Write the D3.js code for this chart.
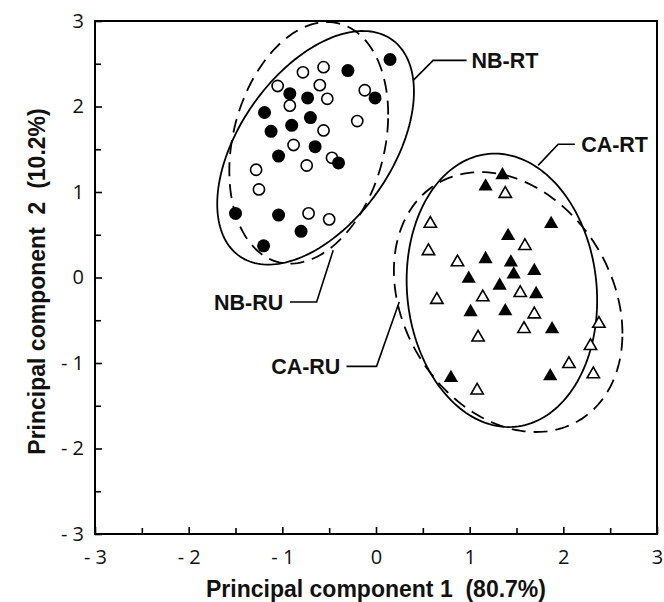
<!DOCTYPE html>
<html>
<head>
<meta charset="utf-8">
<script src="https://cdn.jsdelivr.net/npm/d3@7"></script>
<style>
body { margin: 0; background: #fff; }
</style>
</head>
<body>
<script>
// PCA scores (PC1, PC2)
var nbFilled = [
  [0.15, 2.55], [-0.30, 2.42], [-0.01, 2.10], [-0.92, 2.15], [-0.73, 2.10],
  [-1.19, 1.93], [-0.70, 1.87], [-1.12, 1.71], [-0.90, 1.78], [-0.65, 1.53],
  [-1.04, 1.42], [-0.40, 1.34], [-1.50, 0.75], [-1.04, 0.73], [-0.80, 0.54],
  [-1.20, 0.37]
];
var nbOpen = [
  [-0.78, 2.40], [-0.56, 2.46], [-1.05, 2.24], [-0.60, 2.25], [-0.52, 2.09],
  [-0.12, 2.19], [-0.92, 2.01], [-0.20, 1.83], [-0.56, 1.72], [-0.88, 1.55],
  [-0.47, 1.40], [-0.74, 1.31], [-1.28, 1.26], [-1.25, 1.03], [-0.72, 0.75],
  [-0.50, 0.68]
];
var caFilled = [
  [1.35, 1.22], [1.17, 1.09], [1.87, 0.65], [1.41, 0.51], [1.17, 0.24],
  [1.44, 0.20], [1.47, 0.06], [1.69, 0.10], [0.99, 0.01], [1.32, -0.07],
  [1.71, -0.17], [1.01, -0.38], [1.38, -0.37], [1.88, -0.58], [0.80, -1.15],
  [1.86, -1.13]
];
var caOpen = [
  [1.38, 1.00], [0.58, 0.65], [0.56, 0.33], [1.59, 0.39], [0.87, 0.20],
  [0.65, -0.24], [1.14, -0.21], [1.54, -0.16], [1.69, -0.41], [1.58, -0.58],
  [1.09, -0.68], [2.38, -0.52], [2.29, -0.78], [2.06, -0.99], [2.32, -1.11],
  [1.08, -1.30]
];

// group ellipses: centre, spread along PC1 / PC2 and covariance
var ellipseNames = ["NB-RT", "NB-RU", "CA-RT", "CA-RU"];
var ellipseCx = [-0.645, -0.718, 1.344, 1.411];
var ellipseCy = [1.517, 1.575, -0.150, -0.287];
var ellipseSx = [1.050, 0.848, 1.017, 1.220];
var ellipseSy = [1.366, 1.413, 1.599, 1.520];
var ellipseCov = [0.69, 0.28, -0.12, -0.45];

var majorTicks = [-3, -2, -1, 0, 1, 2, 3];
var minorTicks = [-2.5, -1.5, -0.5, 0.5, 1.5, 2.5];

// label call-outs (data units): leader line points, then text
var callouts = [
  {name: "NB-RT", pts: [[0.397, 2.306], [0.610, 2.540], [0.967, 2.540]], tx: 1.02, anchor: "start"},
  {name: "CA-RT", pts: [[1.731, 1.312], [1.945, 1.558], [2.123, 1.558]], tx: 2.19, anchor: "start"},
  {name: "NB-RU", pts: [[-0.457, 0.318], [-0.634, -0.287], [-0.919, -0.287]], tx: -0.99, anchor: "end"},
  {name: "CA-RU", pts: [[0.248, -0.287], [0.006, -1.039], [-0.315, -1.039]], tx: -0.38, anchor: "end"}
];

var width = 664, height = 602;
var margin = {top: 21, right: 7, bottom: 68, left: 95};

var svg = d3.select("body").append("svg")
    .attr("width", width)
    .attr("height", height)
    .style("background", "#fff");

var x = d3.scaleLinear().domain([-3, 3]).range([margin.left, width - margin.right]);
var y = d3.scaleLinear().domain([-3, 3]).range([height - margin.bottom, margin.top]);

function fmt(d) {
  return d < 0 ? "- " + Math.abs(d) : String(d);
}

// ticks point inward
var gx = svg.append("g")
    .attr("transform", "translate(0," + y(-3) + ")")
    .call(d3.axisBottom(x).tickValues(majorTicks).tickSizeInner(-7).tickSizeOuter(0).tickPadding(4).tickFormat(fmt));
gx.selectAll("text").attr("dy", "0").attr("y", 30);
svg.append("g")
    .attr("transform", "translate(0," + y(-3) + ")")
    .call(d3.axisBottom(x).tickValues(minorTicks).tickSizeInner(-6).tickSizeOuter(0).tickFormat(""));

var gy = svg.append("g")
    .attr("transform", "translate(" + x(-3) + ",0)")
    .call(d3.axisLeft(y).tickValues(majorTicks).tickSizeInner(-7).tickSizeOuter(0).tickPadding(11).tickFormat(fmt));
svg.append("g")
    .attr("transform", "translate(" + x(-3) + ",0)")
    .call(d3.axisLeft(y).tickValues(minorTicks).tickSizeInner(-6).tickSizeOuter(0).tickFormat(""));

svg.selectAll(".domain").remove();
svg.selectAll(".tick line").attr("stroke", "#000").attr("stroke-width", 1.6);
svg.selectAll(".tick text")
    .attr("font-family", "'Open Sans', sans-serif")
    .attr("font-size", 20)
    .attr("fill", "#111");

// frame
svg.append("rect")
    .attr("x", x(-3))
    .attr("y", y(3))
    .attr("width", x(3) - x(-3))
    .attr("height", y(-3) - y(3))
    .attr("fill", "none")
    .attr("stroke", "#000")
    .attr("stroke-width", 2);

// ellipses
var line = d3.line()
    .x(function(p) { return x(p[0]); })
    .y(function(p) { return y(p[1]); })
    .curve(d3.curveLinearClosed);

ellipseNames.forEach(function(name, i) {
  var l11 = ellipseSx[i];
  var l21 = ellipseCov[i] / ellipseSx[i];
  var l22 = Math.sqrt(ellipseSy[i] * ellipseSy[i] - l21 * l21);
  var pts = d3.range(0, 2 * Math.PI, Math.PI / 90).map(function(t) {
    return [ellipseCx[i] + l11 * Math.cos(t), ellipseCy[i] + l21 * Math.cos(t) + l22 * Math.sin(t)];
  });
  svg.append("path")
      .attr("d", line(pts))
      .attr("fill", "none")
      .attr("stroke", "#000")
      .attr("stroke-width", 1.8)
      .attr("stroke-dasharray", name.indexOf("RU") > 0 ? "14,8" : null);
});

// call-outs
callouts.forEach(function(c) {
  svg.append("path")
      .attr("d", d3.line().x(function(p) { return x(p[0]); }).y(function(p) { return y(p[1]); })(c.pts))
      .attr("fill", "none")
      .attr("stroke", "#000")
      .attr("stroke-width", 1.6);
  svg.append("text")
      .attr("x", x(c.tx))
      .attr("y", y(c.pts[2][1]))
      .attr("dy", "0.36em")
      .attr("text-anchor", c.anchor)
      .attr("font-family", "'Liberation Sans', Arial, sans-serif")
      .attr("font-weight", "bold")
      .attr("font-size", 21.5)
      .attr("fill", "#111")
      .text(c.name);
});

// points
function circles(data, filled) {
  svg.append("g").selectAll("circle")
    .data(data)
    .enter().append("circle")
      .attr("cx", function(d) { return x(d[0]); })
      .attr("cy", function(d) { return y(d[1]); })
      .attr("r", filled ? 6.5 : 5.6)
      .attr("fill", filled ? "#000" : "#fff")
      .attr("stroke", "#000")
      .attr("stroke-width", filled ? 0 : 1.6);
}

function triangles(data, filled) {
  var size = filled ? 88 : 66;
  var h = Math.sqrt(size * 4 / Math.sqrt(3)) * Math.sqrt(3) / 2;
  svg.append("g").selectAll("path")
    .data(data)
    .enter().append("path")
      .attr("d", d3.symbol(d3.symbolTriangle, size))
      .attr("transform", function(d) { return "translate(" + x(d[0]) + "," + (y(d[1]) + h / 6) + ")"; })
      .attr("fill", filled ? "#000" : "#fff")
      .attr("stroke", "#000")
      .attr("stroke-width", filled ? 0 : 1.6);
}

circles(nbOpen, false);
circles(nbFilled, true);
triangles(caOpen, false);
triangles(caFilled, true);

// axis titles
svg.append("text")
    .attr("x", (x(-3) + x(3)) / 2)
    .attr("y", 597)
    .attr("text-anchor", "middle")
    .attr("font-family", "'Liberation Sans', Arial, sans-serif")
    .attr("font-weight", "bold")
    .attr("font-size", 23)
    .attr("fill", "#111")
    .style("white-space", "pre")
    .text("Principal component 1  (80.7%)");

svg.append("text")
    .attr("transform", "translate(45," + ((y(-3) + y(3)) / 2 + 4) + ") rotate(-90)")
    .attr("text-anchor", "middle")
    .attr("font-family", "'Liberation Sans', Arial, sans-serif")
    .attr("font-weight", "bold")
    .attr("font-size", 23)
    .attr("fill", "#111")
    .style("white-space", "pre")
    .text("Principal component  2  (10.2%)");
</script>
</body>
</html>
